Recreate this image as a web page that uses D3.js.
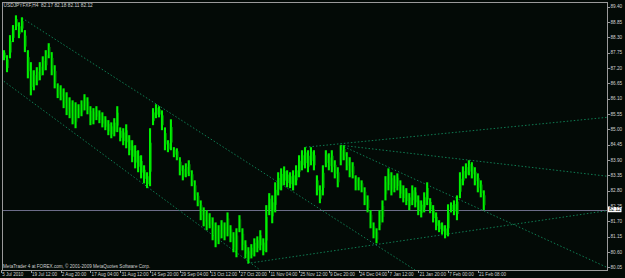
<!DOCTYPE html>
<html><head><meta charset="utf-8">
<script src="https://cdn.jsdelivr.net/npm/d3@7/dist/d3.min.js"></script>
<style>html,body{margin:0;padding:0;background:#030a06;overflow:hidden}svg{display:block}</style>
</head><body>
<script>
const W = 625, H = 278;
const symbolTitle = "USDJPYFXF,H4  82.17 82.18 82.11 82.12";
const copyright = "MetaTrader 4 at FOREX.com, \u00a9 2001-2009 MetaQuotes Software Corp.";
const currentPrice = 82.12;
const priceTicks = [89.40, 88.85, 88.30, 87.75, 87.20, 86.65, 86.10, 85.55, 85.00, 84.45, 83.90, 83.35, 82.80, 82.25, 81.70, 81.15, 80.60, 80.05];
const timeTickIdx = [0,10,20,30,40,50,60,70,80,90,100,110,120,130,140,150,160];
const timeTickLabels = ["5 Jul 2010","19 Jul 12:00","2 Aug 20:00","17 Aug 04:00","31 Aug 12:00","14 Sep 20:00","29 Sep 04:00","13 Oct 12:00","27 Oct 20:00","11 Nov 04:00","25 Nov 12:00","9 Dec 20:00","24 Dec 04:00","7 Jan 12:00","21 Jan 20:00","7 Feb 00:00","21 Feb 08:00"];

const barHigh = [
87.91,87.84,87.66,88.38,88.74,89.09,88.84,89.02,88.56,87.84,
87.41,87.12,87.23,87.41,87.62,87.84,88.09,87.77,87.30,86.65,
86.58,86.47,86.33,86.15,86.04,85.97,85.90,86.04,86.26,86.15,
85.83,85.76,85.83,85.68,85.61,85.47,85.33,85.25,85.40,85.83,
85.07,85.04,85.18,84.79,84.61,84.43,84.25,84.07,83.71,83.46,
85.04,85.76,85.90,85.83,85.68,85.07,84.61,85.36,84.36,84.32,
84.00,83.71,83.78,83.89,83.53,83.17,82.74,82.45,82.20,82.10,
81.99,81.84,81.66,81.56,81.74,81.66,82.02,81.56,81.31,81.45,
81.92,81.45,81.02,80.77,80.88,81.09,81.16,81.38,81.09,82.28,
82.71,82.63,83.10,83.46,83.60,83.67,83.53,83.46,83.53,83.71,
84.07,84.25,84.36,84.25,84.36,84.25,83.35,82.99,83.71,84.25,
84.14,84.25,83.89,83.64,84.43,84.43,84.18,84.00,83.82,83.35,
83.28,83.17,82.92,82.63,82.10,81.66,81.45,82.10,82.45,83.32,
83.60,83.46,83.35,83.42,83.17,82.99,82.89,82.71,82.99,82.92,
82.63,82.45,82.74,83.10,82.53,82.28,82.02,81.74,81.66,81.56,
82.31,82.38,82.45,82.63,83.46,83.67,83.78,83.89,83.82,83.64,
83.42,83.17,82.81];
const barLow = [
87.62,87.48,87.05,87.55,88.13,88.56,88.27,88.48,87.77,86.83,
86.22,86.40,86.58,86.76,86.94,87.12,87.55,86.94,86.47,86.12,
86.04,85.76,85.51,85.40,85.18,85.04,85.40,85.47,85.68,85.54,
85.15,85.18,85.33,85.22,85.07,84.97,84.79,84.68,84.75,84.90,
84.57,84.43,84.32,84.07,83.82,83.60,83.46,83.24,83.06,82.89,
82.96,85.15,85.40,85.43,84.97,84.25,84.18,84.25,84.00,83.89,
83.35,83.17,83.28,83.32,82.96,82.45,82.24,81.74,81.52,81.38,
81.45,81.02,80.77,80.88,81.09,81.02,81.16,80.95,80.59,80.41,
81.31,80.66,80.37,80.19,80.37,80.44,80.59,80.66,80.48,80.59,
81.92,81.63,82.02,82.63,82.81,82.99,82.92,82.89,82.81,82.99,
83.28,83.53,83.60,83.46,83.71,83.53,82.63,82.35,82.63,83.64,
83.53,83.46,83.24,82.92,83.71,83.89,83.53,83.28,83.24,82.81,
82.81,82.74,82.28,82.02,81.45,81.09,80.91,81.38,81.66,82.45,
82.81,82.63,82.74,82.81,82.53,82.38,82.28,82.10,82.28,82.20,
81.92,81.84,82.02,82.28,81.99,81.66,81.38,81.31,81.23,81.09,
81.16,82.02,81.92,81.74,82.53,82.99,83.24,83.35,83.24,82.99,
82.74,82.56,82.10];

// trendlines: [startIndex, startPrice, endIndex, endPrice]
const trendLines = [
  [7.1, 88.99, 139.0, 79.95],
  [0.0, 86.80, 87.0, 79.95],
  [82.7, 80.19, 203.3, 82.08],
  [102.2, 84.36, 203.3, 85.43],
  [114.0, 84.43, 203.3, 80.05],
  [114.0, 84.43, 203.3, 83.32]
];

const plot = {left: 2, top: 2, right: 607, bottom: 270};
const x = d3.scaleLinear().domain([0, 203.3]).range([1, 606.8]);
const y = d3.scaleLinear().domain([80.05, 89.40]).range([267.3, 6.7]);

const svg = d3.select("body").append("svg").attr("width", W).attr("height", H);
svg.append("rect").attr("width", W).attr("height", H).attr("fill", "#030a06");

svg.append("defs").append("clipPath").attr("id","clip").append("rect")
  .attr("x", plot.left).attr("y", plot.top)
  .attr("width", plot.right - plot.left).attr("height", plot.bottom - plot.top);

const g = svg.append("g").attr("clip-path","url(#clip)");

// current price line
g.append("line").attr("x1", plot.left).attr("x2", plot.right)
  .attr("y1", Math.round(y(currentPrice)) + 0.5).attr("y2", Math.round(y(currentPrice)) + 0.5)
  .attr("stroke", "#6c6c88").attr("stroke-width", 1);

// trendlines
g.selectAll("line.tl").data(trendLines).enter().append("line").attr("class","tl")
  .attr("x1", d => x(d[0])).attr("y1", d => y(d[1]))
  .attr("x2", d => x(d[2])).attr("y2", d => y(d[3]))
  .attr("stroke", "#0f7c52").attr("stroke-width", 1)
  .attr("stroke-dasharray", "1.5,2");

// bars (high-low range, with a thin open/close feel from neighbouring bars)
g.selectAll("rect.bar").data(barHigh).enter().append("rect").attr("class","bar")
  .attr("x", (d,i) => x(i) - 1).attr("width", 2.1)
  .attr("y", d => y(d))
  .attr("height", (d,i) => Math.max(1, y(barLow[i]) - y(d)))
  .attr("fill", "#00f000");
g.selectAll("rect.bar2").data(barHigh).enter().append("rect").attr("class","bar2")
  .attr("x", (d,i) => x(i) + 0.9).attr("width", 0.9)
  .attr("y", (d,i) => y(d) + (y(barLow[i]) - y(d)) * 0.25)
  .attr("height", (d,i) => Math.max(1, (y(barLow[i]) - y(d)) * 0.5))
  .attr("fill", "#009a00");

// frame
svg.append("rect").attr("x", plot.left + 0.5).attr("y", plot.top + 0.5)
  .attr("width", plot.right - plot.left).attr("height", plot.bottom - plot.top)
  .attr("fill","none").attr("stroke","#9a9a9a").attr("stroke-width",1);

const font = "'Liberation Sans', Arial, sans-serif";
const txtCol = "#cfcfcf";

// right axis
const ra = svg.append("g");
ra.selectAll("line").data(priceTicks).enter().append("line")
  .attr("x1", plot.right + 0.5).attr("x2", plot.right + 3)
  .attr("y1", d => Math.round(y(d)) + 0.5).attr("y2", d => Math.round(y(d)) + 0.5)
  .attr("stroke", "#9a9a9a");
ra.selectAll("text").data(priceTicks).enter().append("text")
  .attr("x", plot.right + 3.5).attr("y", d => y(d) + 1.7)
  .attr("font-family", font).attr("font-size", 4.7).attr("fill", txtCol)
  .text(d => d.toFixed(2));

// current price label
const cy = y(currentPrice);
svg.append("rect").attr("x", plot.right + 1).attr("y", cy - 2.6).attr("width", 13.5).attr("height", 5.2).attr("fill", "#ffffff");
svg.append("text").attr("x", plot.right + 2).attr("y", cy + 1.7)
  .attr("font-family", font).attr("font-size", 4.7).attr("fill", "#000")
  .text(currentPrice.toFixed(2));

// bottom axis
const ba = svg.append("g");
ba.selectAll("line").data(timeTickIdx).enter().append("line")
  .attr("x1", d => Math.round(x(d)) + 0.5).attr("x2", d => Math.round(x(d)) + 0.5)
  .attr("y1", plot.bottom).attr("y2", plot.bottom + 3)
  .attr("stroke", "#9a9a9a");
ba.selectAll("text").data(timeTickIdx).enter().append("text")
  .attr("x", d => x(d) + 1.2).attr("y", plot.bottom + 5.5)
  .attr("font-family", font).attr("font-size", 4.6).attr("fill", txtCol)
  .text((d,i) => timeTickLabels[i]);

// header and copyright
svg.append("text").attr("x", 3.5).attr("y", 7)
  .attr("font-family", font).attr("font-size", 4.8).attr("fill", txtCol)
  .attr("xml:space","preserve").style("white-space","pre").text(symbolTitle);
svg.append("text").attr("x", 3).attr("y", 267.5)
  .attr("font-family", font).attr("font-size", 4.6).attr("fill", txtCol)
  .text(copyright);
</script>
</body></html>
